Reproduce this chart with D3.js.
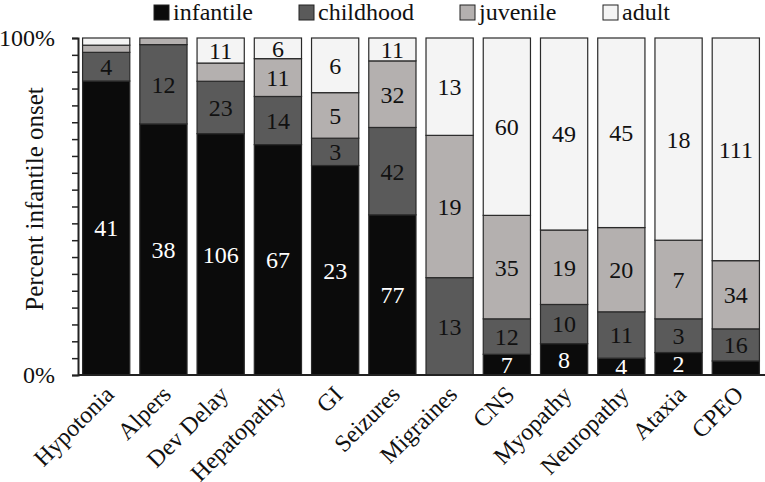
<!DOCTYPE html>
<html>
<head>
<meta charset="utf-8">
<script src="https://cdn.jsdelivr.net/npm/d3@7"></script>
</head>
<body style="margin:0;background:#fff">
<div id="chart"></div>
<script>
const categories = ["Hypotonia", "Alpers", "Dev Delay", "Hepatopathy", "GI", "Seizures",
  "Migraines", "CNS", "Myopathy", "Neuropathy", "Ataxia", "CPEO"];
const stages = ["infantile", "childhood", "juvenile", "adult"];

const infantile = [41, 38, 106, 67, 23, 77, 0, 7, 8, 4, 2, 7];
const childhood = [4, 12, 23, 14, 3, 42, 13, 12, 10, 11, 3, 16];
const juvenile = [1, 1, 8, 11, 5, 32, 19, 35, 19, 20, 7, 34];
const adult = [1, 0, 11, 6, 6, 11, 13, 60, 49, 45, 18, 111];

// segments that carry no number in the original
const unlabeled = ["Hypotonia:juvenile", "Hypotonia:adult", "Alpers:juvenile",
  "Dev Delay:juvenile", "CPEO:infantile"];

const yTicks = d3.range(0, 1.0001, 0.05);

const FONT = "Liberation Serif";

const colors = {
  infantile: "#0b0b0b",
  childhood: "#5a5a5a",
  juvenile: "#b4b0af",
  adult: "#f4f4f4"
};
const textColors = { infantile: "#fff", childhood: "#111", juvenile: "#111", adult: "#111" };

const width = 765, height = 482;
const margin = { top: 38, right: 1, bottom: 107, left: 78 };

const rows = categories.map((c, i) => {
  const r = { category: c, infantile: infantile[i], childhood: childhood[i], juvenile: juvenile[i], adult: adult[i] };
  r.total = r.infantile + r.childhood + r.juvenile + r.adult;
  return r;
});

const series = d3.stack()
  .keys(stages)
  .value((d, key) => d[key] / d.total)(rows);

const svg = d3.select("#chart").append("svg")
  .attr("width", width)
  .attr("height", height)
  .style("display", "block");

const x = d3.scaleBand()
  .domain(categories)
  .range([margin.left, width - margin.right])
  .paddingInner(0.175)
  .paddingOuter(0.08);

const y = d3.scaleLinear()
  .domain([0, 1])
  .range([height - margin.bottom, margin.top]);

// bars
const layer = svg.append("g")
  .selectAll("g")
  .data(series)
  .join("g")
  .attr("fill", (d) => colors[d.key]);

layer.selectAll("rect")
  .data((d) => d.map((p) => Object.assign(p, { key: d.key })))
  .join("rect")
  .filter((d) => d[1] - d[0] > 0)
  .attr("x", (d) => x(d.data.category))
  .attr("y", (d) => y(d[1]))
  .attr("width", x.bandwidth())
  .attr("height", (d) => y(d[0]) - y(d[1]))
  .attr("stroke", "#2a2a2a")
  .attr("stroke-width", 1.2);

// value labels
layer.selectAll("text")
  .data((d) => d.filter((p) => p.data[p.key] > 0 && !unlabeled.includes(p.data.category + ":" + p.key)))
  .join("text")
  .attr("x", (d) => x(d.data.category) + x.bandwidth() / 2)
  .attr("y", (d) => (y(d[0]) + y(d[1])) / 2)
  .attr("dy", "0.35em")
  .attr("text-anchor", "middle")
  .attr("fill", (d) => textColors[d.key])
  .style("font-family", FONT)
  .style("font-size", "24px")
  .text((d) => d.data[d.key]);

// y axis
const yAxis = svg.append("g")
  .attr("transform", `translate(${margin.left},0)`)
  .call(d3.axisLeft(y)
    .tickValues(yTicks)
    .tickSize(6)
    .tickPadding(17)
    .tickFormat((d) => (Math.abs(d) < 1e-9 || Math.abs(d - 1) < 1e-9) ? d3.format(".0%")(d) : ""));
yAxis.select(".domain").attr("stroke", "#222").attr("stroke-width", 2);
yAxis.selectAll(".tick line").attr("stroke", "#222").attr("stroke-width", 1.5);
yAxis.selectAll(".tick text")
  .attr("fill", "#111")
  .style("font-family", FONT)
  .style("font-size", "24px");

// x axis baseline and rotated labels
svg.append("line")
  .attr("x1", margin.left)
  .attr("x2", width)
  .attr("y1", y(0))
  .attr("y2", y(0))
  .attr("stroke", "#222")
  .attr("stroke-width", 2);

svg.append("g")
  .selectAll("text")
  .data(categories)
  .join("text")
  .attr("transform", (d) => `translate(${x(d) + x.bandwidth() / 2 + 9},${y(0) + 21}) rotate(-45)`)
  .attr("text-anchor", "end")
  .attr("fill", "#111")
  .style("font-family", FONT)
  .style("font-size", "24px")
  .text((d) => d);

// y axis title
svg.append("text")
  .attr("transform", "translate(43,199) rotate(-90)")
  .attr("text-anchor", "middle")
  .attr("fill", "#111")
  .style("font-family", FONT)
  .style("font-size", "25px")
  .text("Percent infantile onset");

// legend
const legendX = [154, 299, 460, 603];
const legend = svg.append("g")
  .selectAll("g")
  .data(stages)
  .join("g")
  .attr("transform", (d, i) => `translate(${legendX[i]},12)`);

legend.append("rect")
  .attr("x", 0)
  .attr("y", -7)
  .attr("width", 15)
  .attr("height", 15)
  .attr("fill", (d) => colors[d])
  .attr("stroke", "#222")
  .attr("stroke-width", 1);

legend.append("text")
  .attr("x", 19)
  .attr("dy", "0.35em")
  .attr("fill", "#111")
  .style("font-family", FONT)
  .style("font-size", "24px")
  .text((d) => d);
</script>
</body>
</html>
